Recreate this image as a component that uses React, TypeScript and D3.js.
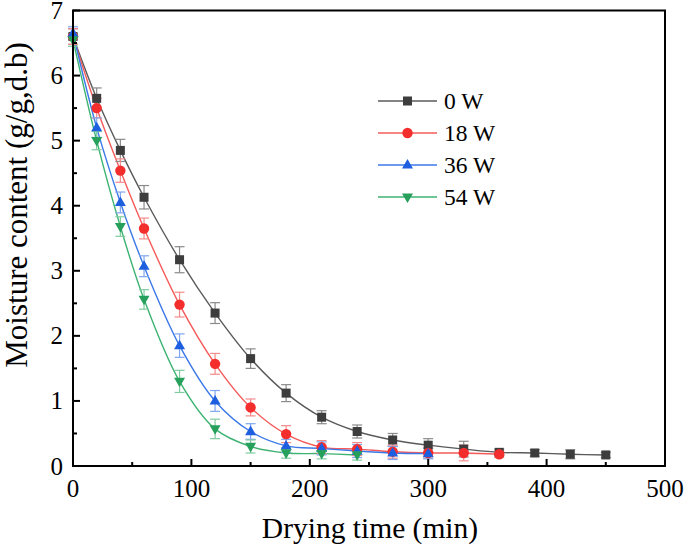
import React from "react";
import * as d3 from "d3";

const timesW0 = [0, 20, 40, 60, 90, 120, 150, 180, 210, 240, 270, 300, 330, 360, 390, 420, 450];
const valuesW0 = [6.6, 5.65, 4.85, 4.13, 3.17, 2.35, 1.65, 1.12, 0.75, 0.53, 0.4, 0.32, 0.26, 0.21, 0.2, 0.18, 0.17];
const errW0 = [0.12, 0.16, 0.17, 0.18, 0.2, 0.16, 0.15, 0.13, 0.1, 0.1, 0.1, 0.1, 0.12, 0.05, 0.05, 0.07, 0.04];

const timesW18 = [0, 20, 40, 60, 90, 120, 150, 180, 210, 240, 270, 300, 330, 360];
const valuesW18 = [6.6, 5.5, 4.54, 3.65, 2.48, 1.57, 0.9, 0.49, 0.29, 0.26, 0.22, 0.2, 0.2, 0.18];
const errW18 = [0.12, 0.15, 0.18, 0.16, 0.19, 0.16, 0.13, 0.13, 0.1, 0.1, 0.1, 0.08, 0.12, 0.05];

const timesW36 = [0, 20, 40, 60, 90, 120, 150, 180, 210, 240, 270, 300];
const valuesW36 = [6.65, 5.2, 4.05, 3.07, 1.85, 1.0, 0.53, 0.31, 0.27, 0.23, 0.2, 0.19];
const errW36 = [0.1, 0.15, 0.16, 0.16, 0.18, 0.16, 0.12, 0.1, 0.1, 0.1, 0.1, 0.08];

const timesW54 = [0, 20, 40, 60, 90, 120, 150, 180, 210, 240];
const valuesW54 = [6.55, 5.0, 3.68, 2.56, 1.3, 0.57, 0.3, 0.2, 0.19, 0.17];
const errW54 = [0.1, 0.14, 0.15, 0.15, 0.17, 0.15, 0.1, 0.08, 0.08, 0.08];

const seriesNames = ["0 W", "18 W", "36 W", "54 W"];
const xTicks = [0, 100, 200, 300, 400, 500];
const yTicks = [0, 1, 2, 3, 4, 5, 6, 7];

const W = 685, H = 550;
const left = 73, right = 665, top = 10.5, bottom = 466;

export default function App() {
  const x = d3.scaleLinear().domain([0, 500]).range([left, right]);
  const y = d3.scaleLinear().domain([0, 7]).range([bottom, top]);
  const series = [
    { name: seriesNames[0], t: timesW0, v: valuesW0, e: errW0, color: "#3d3d3d", line: "#5a5a5a", err: "#8a8a8a", shape: "square" },
    { name: seriesNames[1], t: timesW18, v: valuesW18, e: errW18, color: "#f42d2d", line: "#f55a5a", err: "#f58a8a", shape: "circle" },
    { name: seriesNames[2], t: timesW36, v: valuesW36, e: errW36, color: "#1e5fe0", line: "#3b78e8", err: "#7fa6ee", shape: "tri" },
    { name: seriesNames[3], t: timesW54, v: valuesW54, e: errW54, color: "#27a05c", line: "#3cb371", err: "#80cca0", shape: "dtri" },
  ];
  const line = d3.line<[number, number]>().x(d => x(d[0])).y(d => y(d[1])).curve(d3.curveCatmullRom.alpha(0.5));

  const marker = (shape: string, cx: number, cy: number, color: string, key?: any) => {
    if (shape === "square") return <rect key={key} x={cx - 4.5} y={cy - 4.5} width={9} height={9} fill={color} />;
    if (shape === "circle") return <circle key={key} cx={cx} cy={cy} r={5.2} fill={color} />;
    const s = 11, h = s * 0.866;
    if (shape === "tri") return <path key={key} d={`M${cx},${cy - h * 0.62} L${cx + s / 2},${cy + h * 0.38} L${cx - s / 2},${cy + h * 0.38}Z`} fill={color} />;
    return <path key={key} d={`M${cx},${cy + h * 0.62} L${cx + s / 2},${cy - h * 0.38} L${cx - s / 2},${cy - h * 0.38}Z`} fill={color} />;
  };

  const font = "'Liberation Serif', 'Times New Roman', serif";
  const minorX = d3.range(50, 500, 100);
  const minorY = d3.range(0.5, 7, 1);

  return (
    <svg width={W} height={H} style={{ position: "absolute", left: 0, top: 0, background: "#fff" }} fontFamily={font}>
      {series.map(s => (
        <path key={s.name + "l"} d={line(s.t.map((t, i) => [t, s.v[i]] as [number, number])) || ""} fill="none" stroke={s.line} strokeWidth={1.4} />
      ))}
      {series.map(s => s.t.map((t, i) => {
        const cx = x(t), y1 = y(s.v[i] + s.e[i]), y2 = y(Math.max(0, s.v[i] - s.e[i]));
        return (
          <g key={s.name + "e" + i} stroke={s.err} strokeWidth={1.2}>
            <line x1={cx} x2={cx} y1={y1} y2={y2} />
            <line x1={cx - 5} x2={cx + 5} y1={y1} y2={y1} />
            <line x1={cx - 5} x2={cx + 5} y1={y2} y2={y2} />
          </g>
        );
      }))}
      {series.map(s => s.t.map((t, i) => marker(s.shape, x(t), y(s.v[i]), s.color, s.name + "m" + i)))}
      <rect x={left} y={top} width={right - left} height={bottom - top} fill="none" stroke="#000" strokeWidth={2} />
      {xTicks.map(t => <line key={"xt" + t} x1={x(t)} x2={x(t)} y1={bottom} y2={bottom - 7} stroke="#000" strokeWidth={2} />)}
      {minorX.map(t => <line key={"xm" + t} x1={x(t)} x2={x(t)} y1={bottom} y2={bottom - 4} stroke="#000" strokeWidth={2} />)}
      {yTicks.map(t => <line key={"yt" + t} x1={left} x2={left + 7} y1={y(t)} y2={y(t)} stroke="#000" strokeWidth={2} />)}
      {minorY.map(t => <line key={"ym" + t} x1={left} x2={left + 4} y1={y(t)} y2={y(t)} stroke="#000" strokeWidth={2} />)}
      {xTicks.map(t => <text key={"xl" + t} x={x(t)} y={497} textAnchor="middle" fontSize={25} fill="#000">{t}</text>)}
      {yTicks.map(t => <text key={"yl" + t} x={63} y={y(t) + 8.5} textAnchor="end" fontSize={25} fill="#000">{t}</text>)}
      <text x={370} y={538} textAnchor="middle" fontSize={29.5} fill="#000">Drying time (min)</text>
      <text transform={`translate(27,${205}) rotate(-90)`} textAnchor="middle" fontSize={31} fill="#000">Moisture content (g/g,d.b)</text>
      {series.map((s, i) => {
        const ly = 101 + i * 32;
        return (
          <g key={s.name + "lg"}>
            <line x1={378} x2={437} y1={ly} y2={ly} stroke={s.line} strokeWidth={1.4} />
            {marker(s.shape, 407.5, ly, s.color)}
            <text x={444} y={ly + 8} fontSize={23.5} fill="#000">{s.name}</text>
          </g>
        );
      })}
    </svg>
  );
}
